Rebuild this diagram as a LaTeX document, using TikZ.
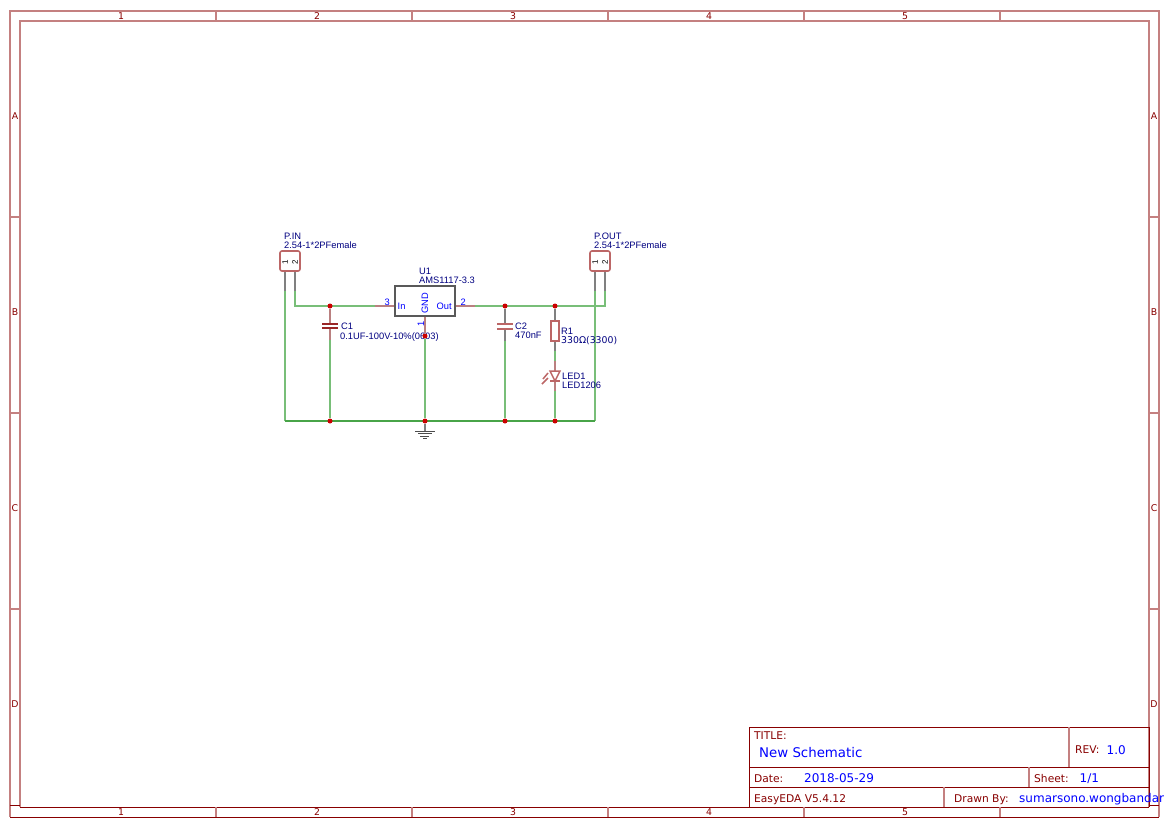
\documentclass[tikz,border=0pt]{standalone}
\usepackage{fontspec}
\setmainfont{Liberation Sans}
\newfontfamily\sheetfont{DejaVu Sans}
\pgfdeclarelayer{bg}
\pgfsetlayers{bg,main}
\definecolor{sheetred}{HTML}{880000}
\definecolor{sheetpink}{HTML}{C48080}
\definecolor{wiregreen}{HTML}{78BE78}
\definecolor{wiredark}{HTML}{48A448}
\definecolor{partred}{HTML}{BC6666}
\definecolor{pinred}{HTML}{BA8080}
\definecolor{partblue}{HTML}{000080}
\definecolor{netblue}{HTML}{0000FF}
\definecolor{junctionred}{HTML}{CC0000}
\definecolor{pingray}{HTML}{808080}
\tikzset{
    frameline/.style={draw=sheetpink,line width=1.8pt},
    framedark/.style={draw=sheetred,line width=1pt},
    wire/.style={draw=wiregreen,line width=2pt},
    wirelow/.style={draw=wiredark,line width=1.6pt},
    pinline/.style={draw=pinred,line width=2pt},
    pingrayline/.style={draw=pingray,line width=2pt},
    partline/.style={draw=partred,line width=1.8pt},
    symbolline/.style={draw=partred,line width=1.5pt},
    groundline/.style={draw=black!70,line width=1pt},
    junction/.style={circle,fill=junctionred,inner sep=0pt,minimum size=5pt},
    sheetlabel/.style={text=sheetred,inner sep=0pt,anchor=center,font=\sheetfont\fontsize{9.33}{10}\selectfont},
    sheettext/.style={text=sheetred,inner sep=0pt,anchor=base west,font=\sheetfont\fontsize{10.67}{11}\selectfont},
    sheetvalue/.style={text=netblue,inner sep=0pt,anchor=base west,font=\sheetfont\fontsize{12}{12}\selectfont},
    partlabel/.style={text=partblue,inner sep=0pt,anchor=base west,font=\fontsize{9.33}{10}\selectfont},
    pinlabel/.style={text=netblue,inner sep=0pt,anchor=base west,font=\fontsize{9.33}{10}\selectfont},
    headerpin/.style={text=black,inner sep=0pt,rotate=90,font=\fontsize{8}{8}\selectfont},
    headerbox/.style={draw=partred,line width=1.6pt,rounded corners=2pt,minimum width=20pt,minimum height=20pt,inner sep=0pt,outer sep=0pt},
}
\begin{document}
\begin{tikzpicture}[x=1pt,y=-1pt]
    \useasboundingbox (0,0) rectangle (1174,828);

    % sheet frame
    \coordinate (outerTL) at (10,11);
    \coordinate (outerTR) at (1159,11);
    \coordinate (outerBL) at (10,817);
    \coordinate (outerBR) at (1159,817);
    \coordinate (innerTL) at (20,21);
    \coordinate (innerTR) at (1149,21);
    \coordinate (innerBL) at (20,807);
    \coordinate (innerBR) at (1149,807);
    \draw[frameline] (outerBL) -- (outerTL) -- (outerTR) -- (outerBR);
    \draw[frameline] (innerBL) -- (innerTL) -- (innerTR) -- (innerBR);
    \draw[framedark] (outerBL) -- (outerBR);
    \draw[framedark] (innerBL) -- (innerBR);
    \foreach \i/\x in {1/216,2/412,3/608,4/804,5/1000} {
        \draw[frameline] (\x,11) -- (\x,21);
        \draw[frameline] (\x,807) -- (\x,817);
    }
    \foreach \i/\x in {1/121,2/317,3/513,4/709,5/905} {
        \node[sheetlabel] (top\i) at (\x,16) {\i};
        \node[sheetlabel] (bot\i) at (\x,812.5) {\i};
    }
    \foreach \y in {217,413,609} {
        \draw[frameline] (10,\y) -- (20,\y);
        \draw[frameline] (1149,\y) -- (1159,\y);
    }
    \draw[framedark] (10,805) -- (20,805);
    \draw[framedark] (1149,805) -- (1159,805);
    \foreach \i/\y in {A/116,B/312,C/508,D/704} {
        \node[sheetlabel] (left\i) at (15,\y) {\i};
        \node[sheetlabel] (right\i) at (1154,\y) {\i};
    }

    % title block
    \draw[framedark] (749,727) -- (1149,727);
    \draw[framedark] (749,767) -- (1149,767);
    \draw[framedark] (749,787) -- (1149,787);
    \draw[framedark] (749,727) -- (749,807);
    \draw[framedark] (1149,727) -- (1149,807);
    \draw[frameline] (1069,727) -- (1069,767);
    \draw[frameline] (1029,767) -- (1029,787);
    \draw[frameline] (944,787) -- (944,807);
    \node[sheettext] (titlekey) at (754,739) {TITLE:};
    \node[sheetvalue,font=\sheetfont\fontsize{13.33}{14}\selectfont] (title) at (759,757.5) {New Schematic};
    \node[sheettext] (revkey) at (1075,753.5) {REV:};
    \node[sheetvalue] (rev) at (1106.5,754) {1.0};
    \node[sheettext] (datekey) at (754,782.5) {Date:};
    \node[sheetvalue] (date) at (804,782.5) {2018-05-29};
    \node[sheettext] (sheetkey) at (1034,782.5) {Sheet:};
    \node[sheetvalue] (sheet) at (1079.5,782.5) {1/1};
    \node[sheettext] (version) at (754,802.5) {EasyEDA V5.4.12};
    \node[sheettext] (drawnkey) at (954,802.5) {Drawn By:};
    \node[sheetvalue] (drawn) at (1019,802.5) {sumarsono.wongbandar};

    % P.IN
    \node[headerbox] (pin) at (290,261) {};
    \node[headerpin] (pin1) at (285,262.5) {1};
    \node[headerpin] (pin2) at (295,262.5) {2};
    \node[partlabel] (pinname) at (284,239.5) {P.IN};
    \node[partlabel] (pinpart) at (284,248) {2.54-1*2PFemale};

    % P.OUT
    \node[headerbox] (pout) at (600,261) {};
    \node[headerpin] (pout1) at (595,262.5) {1};
    \node[headerpin] (pout2) at (605,262.5) {2};
    \node[partlabel] (poutname) at (594,239.5) {P.OUT};
    \node[partlabel] (poutpart) at (594,248) {2.54-1*2PFemale};

    % U1
    \node[draw=black!65,line width=1.6pt,minimum width=60pt,minimum height=30pt,inner sep=0pt,outer sep=0pt] (u1) at (425,301) {};
    \node[partlabel] (u1name) at (419,274) {U1};
    \node[partlabel] (u1part) at (419,283.5) {AMS1117-3.3};
    \node[pinlabel] (u1num3) at (384.5,305) {3};
    \node[pinlabel] (u1in) at (397.5,309) {In};
    \node[pinlabel] (u1num2) at (460.5,305) {2};
    \node[pinlabel] (u1out) at (436.5,309) {Out};
    \node[pinlabel,anchor=center,rotate=90] (u1gnd) at (425,303) {GND};
    \node[pinlabel,anchor=center,rotate=90] (u1num1) at (421,324) {1};

    % C1
    \draw[draw=sheetred!85!white,line width=2.5pt] (322,324) -- (338,324);
    \draw[draw=sheetred!85!white,line width=2.5pt] (322,328) -- (338,328);
    \node[partlabel] (c1name) at (341,329.5) {C1};
    \node[partlabel] (c1part) at (340,339) {0.1UF-100V-10\%(0603)};

    % C2
    \draw[partline] (497,324) -- (513,324);
    \draw[partline] (497,329) -- (513,329);
    \node[partlabel] (c2name) at (515,329.5) {C2};
    \node[partlabel] (c2part) at (515,338.5) {470nF};

    % R1
    \node[draw=partred,line width=1.6pt,minimum width=8pt,minimum height=20pt,inner sep=0pt,outer sep=0pt] (r1) at (555,331) {};
    \node[partlabel] (r1name) at (561,334) {R1};
    \node[partlabel,font=\sheetfont\fontsize{9.33}{10}\selectfont] (r1part) at (561,343.5) {330Ω(3300)};

    % LED1
    \draw[symbolline] (550,371) -- (560,371) -- (555,381) -- cycle;
    \draw[symbolline] (550,381) -- (560,381);
    \draw[symbolline] (548,373) -- (543,379);
    \draw[symbolline] (548,378) -- (542,384);
    \node[partlabel] (ledname) at (562,379) {LED1};
    \node[partlabel] (ledpart) at (562,388.5) {LED1206};

    % ground
    \coordinate (gndtop) at (425,431);
    \draw[groundline] (415,431) -- (435,431);
    \draw[groundline] (418,433.5) -- (432,433.5);
    \draw[groundline] (420,436) -- (429,436);
    \draw[groundline] (423,438.5) -- (427,438.5);

    % junctions
    \node[junction] (j1) at (330,306) {};
    \node[junction] (j2) at (505,306) {};
    \node[junction] (j3) at (555,306) {};
    \node[junction] (j4) at (425,336) {};
    \node[junction] (j5) at (330,421) {};
    \node[junction] (j6) at (425,421) {};
    \node[junction] (j7) at (505,421) {};
    \node[junction] (j8) at (555,421) {};

    % ends of the pins
    \coordinate (pinin1) at (285,291);
    \coordinate (pinin2) at (295,291);
    \coordinate (pinout1) at (595,291);
    \coordinate (pinout2) at (605,291);
    \coordinate (cornerin) at (295,306);
    \coordinate (cornerout) at (605,306);
    \coordinate (groundleft) at (285,421);
    \coordinate (groundright) at (595,421);
    \coordinate (pinu3) at (375,306);
    \coordinate (bodyu3) at (395,306);
    \coordinate (pinu2) at (475,306);
    \coordinate (bodyu2) at (455,306);
    \coordinate (c1high) at (330,323);
    \coordinate (c1mid) at (330,328);
    \coordinate (c1low) at (330,340);
    \coordinate (c2high) at (505,323);
    \coordinate (c2mid) at (505,329);
    \coordinate (c2low) at (505,341);
    \coordinate (r1low) at (555,351);
    \coordinate (ledhigh) at (555,361);
    \coordinate (ledtop) at (555,371);
    \coordinate (ledbar) at (555,381);
    \coordinate (ledlow) at (555,391);

    % this goes under the parts and the dots
    \begin{pgfonlayer}{bg}
        % wires
        \draw[wire] (pinin1) -- (groundleft);
        \draw[wire] (pinout1) -- (groundright);
        \draw[wirelow] (groundleft) -- (groundright);
        \draw[wire] (pinin2) -- (cornerin) -- (pinu3);
        \draw[wire] (pinu2) -- (cornerout) -- (pinout2);
        \draw[wire] (c1low) -- (j5);
        \draw[wire] (j4) -- (j6);
        \draw[wire] (c2low) -- (j7);
        \draw[wire] (r1low) -- (ledhigh);
        \draw[wire] (ledlow) -- (j8);

        % pins
        \draw[pingrayline] (pin.south -| pinin1) -- (pinin1);
        \draw[pingrayline] (pin.south -| pinin2) -- (pinin2);
        \draw[pingrayline] (pout.south -| pinout1) -- (pinout1);
        \draw[pingrayline] (pout.south -| pinout2) -- (pinout2);
        \draw[pinline] (pinu3) -- (bodyu3);
        \draw[pinline] (bodyu2) -- (pinu2);
        \draw[pinline] (u1.south) -- (j4);
        \draw[pinline] (j1) -- (c1high);
        \draw[pinline] (c1mid) -- (c1low);
        \draw[pingrayline] (j2) -- (c2high);
        \draw[pingrayline] (c2mid) -- (c2low);
        \draw[pingrayline] (j3) -- (r1.north);
        \draw[pingrayline] (r1.south) -- (r1low);
        \draw[pinline] (ledhigh) -- (ledtop);
        \draw[pinline] (ledbar) -- (ledlow);
        \draw[pingrayline] (j6) -- (gndtop);
    \end{pgfonlayer}
\end{tikzpicture}
\end{document}
